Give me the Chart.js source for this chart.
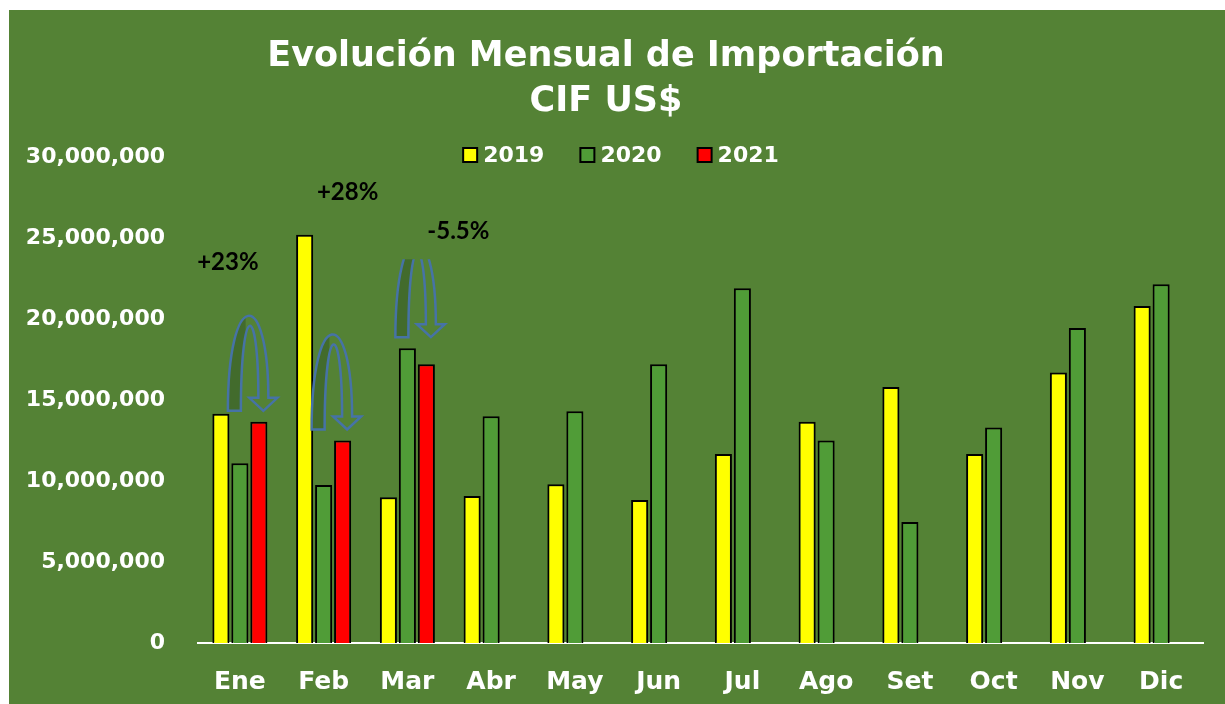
<!DOCTYPE html>
<html>
<head>
<meta charset="utf-8">
<script src="https://cdn.jsdelivr.net/npm/chart.js@4/dist/chart.umd.min.js"></script>
<style>
  html, body { margin: 0; padding: 0; background: #ffffff; width: 1225px; height: 704px; overflow: hidden; }
  #wrap { position: absolute; left: 9px; top: 10px; width: 1216px; height: 694px; background: #548235; }
  canvas { display: block; }
</style>
</head>
<body>
<div id="wrap"><canvas id="canvas" width="1216" height="694"></canvas></div>
<script>
// datos
const months = ['Ene', 'Feb', 'Mar', 'Abr', 'May', 'Jun', 'Jul', 'Ago', 'Set', 'Oct', 'Nov', 'Dic'];
const imp2019 = [14150000, 25200000, 9000000, 9070000, 9800000, 8830000, 11670000, 13650000, 15800000, 11670000, 16700000, 20800000];
const imp2020 = [11100000, 9750000, 18200000, 14000000, 14300000, 17200000, 21900000, 12500000, 7470000, 13300000, 19450000, 22150000];
const imp2021 = [13650000, 12500000, 17200000, null, null, null, null, null, null, null, null, null];
const yTicks = [0, 5000000, 10000000, 15000000, 20000000, 25000000, 30000000];

// variaciones 2021 vs 2020 (mes, texto, altura del rótulo)
const varMonths = [0, 1, 2];
const varLabels = ['+23%', '+28%', '-5.5%'];
const varLabelValues = [23500000, 27800000, 25400000];

const yellow = '#ffff00';
const green = '#509c37';
const red = '#ff0000';

// leyenda dibujada dentro del area (como en Excel)
const legendInside = {
  id: 'legendInside',
  afterDraw(chart) {
    const ctx = chart.ctx;
    ctx.save();
    ctx.font = 'bold 22px "DejaVu Sans"';
    const box = 14, gap = 6, spacing = 36;
    const items = chart.data.datasets.map(ds => ({ label: ds.label, color: ds.backgroundColor, w: box + gap + ctx.measureText(ds.label).width }));
    const total = items.reduce((s, it) => s + it.w, 0) + spacing * (items.length - 1);
    let x = chart.width / 2 + 4 - total / 2;
    const y = 145;
    items.forEach(it => {
      ctx.fillStyle = it.color;
      ctx.fillRect(x, y - box / 2, box, box);
      ctx.strokeStyle = '#000';
      ctx.lineWidth = 2;
      ctx.strokeRect(x, y - box / 2, box, box);
      ctx.fillStyle = '#fff';
      ctx.textBaseline = 'middle';
      ctx.fillText(it.label, x + box + gap, y + 1);
      x += it.w + spacing;
    });
    ctx.restore();
  }
};

function arrowPath(ctx, xl, xr, yb, yt) {
  const w = 13, sw = 10, hw = 28, hh = 13;
  const yh = yb - hh;
  const c = (8 * yt - yb - yh) / 6;
  const ci = (8 * (yt + 10) - yb - yh) / 6;
  ctx.beginPath();
  ctx.moveTo(xl, yb);
  ctx.bezierCurveTo(xl, c, xr + sw / 2, c, xr + sw / 2, yh);
  ctx.lineTo(xr + hw / 2, yh);
  ctx.lineTo(xr, yb);
  ctx.lineTo(xr - hw / 2, yh);
  ctx.lineTo(xr - sw / 2, yh);
  ctx.bezierCurveTo(xr - sw / 2, ci, xl + w, ci, xl + w, yb);
  ctx.closePath();
}

// flechas curvas + porcentajes
const variations = {
  id: 'variations',
  afterDatasetsDraw(chart) {
    const ctx = chart.ctx;
    const m20 = chart.getDatasetMeta(1).data;
    const m21 = chart.getDatasetMeta(2).data;
    const xs = chart.scales.x, ys = chart.scales.y;
    ctx.save();
    varMonths.forEach((i, k) => {
      const g = m20[i], r = m21[i];
      const xl = g.x - 12, xr = r.x + 4.5;
      const yb = Math.min(g.y, r.y) - 11;
      const yt = yb - 95;
      ctx.save();
      if (k === 2) {
        ctx.beginPath();
        ctx.rect(0, yb - 78, chart.width, 200);
        ctx.clip();
      }
      arrowPath(ctx, xl, xr, yb, yt);
      ctx.save();
      ctx.clip();
      ctx.fillStyle = '#426b2c';
      ctx.fillRect(xl - 2, yt - 5, (xr - xl) / 2 + 2, yb - yt + 10);
      ctx.restore();
      ctx.strokeStyle = '#4673a6';
      ctx.lineWidth = 2.5;
      arrowPath(ctx, xl, xr, yb, yt);
      ctx.stroke();
      ctx.restore();
    });
    const dx = [-12, 24, 51];
    ctx.font = 'bold 24px Lato';
    ctx.fillStyle = '#000';
    ctx.textAlign = 'center';
    ctx.textBaseline = 'middle';
    varMonths.forEach((i, k) => {
      ctx.fillText(varLabels[k], xs.getPixelForValue(i) + dx[k], ys.getPixelForValue(varLabelValues[k]));
    });
    ctx.restore();
  }
};

new Chart(document.getElementById('canvas').getContext('2d'), {
  type: 'bar',
  data: {
    labels: months,
    datasets: [
      { label: '2019', data: imp2019, backgroundColor: yellow, borderColor: '#000', borderWidth: 2 },
      { label: '2020', data: imp2020, backgroundColor: green, borderColor: '#000', borderWidth: 2 },
      { label: '2021', data: imp2021, backgroundColor: red, borderColor: '#000', borderWidth: 2 }
    ]
  },
  options: {
    responsive: false,
    animation: false,
    devicePixelRatio: 1,
    layout: { padding: { left: 0, right: 22, top: 0, bottom: 0 } },
    datasets: { bar: { categoryPercentage: 0.68, barPercentage: 0.9 } },
    plugins: {
      legend: { display: false },
      tooltip: { enabled: false },
      title: {
        display: true,
        text: ['Evolución Mensual de Importación', 'CIF US$'],
        color: '#ffffff',
        font: { family: '"DejaVu Sans"', size: 35, weight: 'bold', lineHeight: 1.3 },
        padding: { top: 24, bottom: 32 }
      }
    },
    scales: {
      x: {
        grid: { display: false, drawTicks: false },
        border: { display: true, color: '#ffffff', width: 2 },
        ticks: { color: '#ffffff', padding: 24, font: { family: '"DejaVu Sans"', size: 25, weight: 'bold' } },
        afterFit(scale) { scale.height = 61; }
      },
      y: {
        min: 0,
        max: 30000000,
        grid: { display: false, drawTicks: false },
        border: { display: false },
        afterBuildTicks(scale) { scale.ticks = yTicks.map(v => ({ value: v })); },
        ticks: {
          color: '#ffffff',
          padding: 33,
          font: { family: '"DejaVu Sans"', size: 22, weight: 'bold' },
          callback: v => v.toLocaleString('en-US')
        },
        afterFit(scale) { scale.width = 189; }
      }
    }
  },
  plugins: [legendInside, variations]
});
</script>
</body>
</html>
